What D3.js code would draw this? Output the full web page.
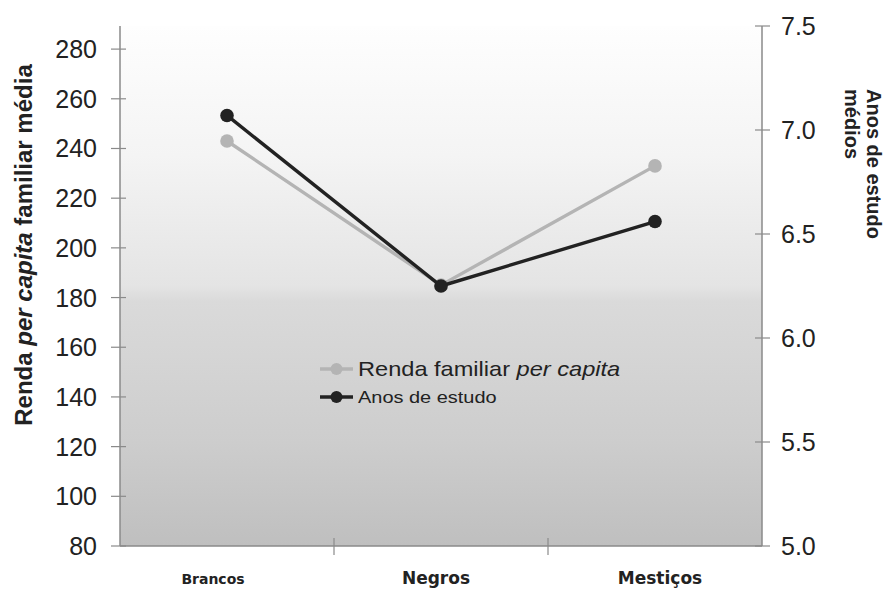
<!DOCTYPE html>
<html>
<head>
<meta charset="utf-8">
<script src="https://cdn.jsdelivr.net/npm/d3@7"></script>
<style>
  html, body { margin: 0; padding: 0; background: #fff; }
  svg { display: block; font-family: "Liberation Sans", Arial, sans-serif; }
</style>
</head>
<body>
<svg id="chart" width="890" height="590"></svg>
<script>
// Groups compared
const categories = ["Brancos", "Negros", "Mestiços"];
// Average per-capita family income (left axis)
const renda = [243, 185, 233];
// Average years of schooling (right axis)
const anosEstudo = [7.07, 6.25, 6.56];
// Tick values for both axes
const leftTicks = [80, 100, 120, 140, 160, 180, 200, 220, 240, 260, 280];
const rightTicks = [5.0, 5.5, 6.0, 6.5, 7.0, 7.5];

const svg = d3.select("#chart");
const m = { left: 120, right: 762, top: 26, bottom: 546 };

const x = d3.scaleBand().domain(categories).range([m.left, m.right]);
const yL = d3.scaleLinear().domain([80, 289.3]).range([m.bottom, m.top]);
const yR = d3.scaleLinear().domain([5.0, 7.5]).range([m.bottom, m.top]);

// Plot background: light-to-grey vertical gradient
const defs = svg.append("defs");
const grad = defs.append("linearGradient")
  .attr("id", "bg").attr("x1", 0).attr("y1", 0).attr("x2", 0).attr("y2", 1);
[[0, "#fefefe"], [0.25, "#f4f4f4"], [0.5, "#e4e4e4"], [0.53, "#dadada"], [0.8, "#cdcdcd"], [1, "#bfbfbf"]]
  .forEach(([o, c]) => grad.append("stop").attr("offset", o).attr("stop-color", c));

svg.append("rect")
  .attr("x", m.left).attr("y", m.top)
  .attr("width", m.right - m.left).attr("height", m.bottom - m.top)
  .attr("fill", "url(#bg)");

const axisColor = "#8a8a8a";
const textColor = "#222";

// Left axis
const gL = svg.append("g");
gL.append("line").attr("x1", m.left).attr("x2", m.left)
  .attr("y1", m.top).attr("y2", m.bottom).attr("stroke", axisColor).attr("stroke-width", 1.5);
gL.selectAll("line.t").data(leftTicks).join("line").attr("class", "t")
  .attr("x1", m.left - 9).attr("x2", m.left + 6)
  .attr("y1", d => yL(d)).attr("y2", d => yL(d))
  .attr("stroke", axisColor).attr("stroke-width", 1.2);
gL.selectAll("text").data(leftTicks).join("text")
  .attr("x", m.left - 23).attr("y", d => yL(d))
  .attr("dy", "0.36em").attr("text-anchor", "end")
  .attr("font-size", 25).attr("fill", textColor)
  .text(d => d);

// Right axis
const gR = svg.append("g");
gR.append("line").attr("x1", m.right).attr("x2", m.right)
  .attr("y1", m.top).attr("y2", m.bottom).attr("stroke", axisColor).attr("stroke-width", 1.5);
gR.selectAll("line.t").data(rightTicks).join("line").attr("class", "t")
  .attr("x1", m.right - 7).attr("x2", m.right + 8)
  .attr("y1", d => yR(d)).attr("y2", d => yR(d))
  .attr("stroke", axisColor).attr("stroke-width", 1.2);
gR.selectAll("text").data(rightTicks).join("text")
  .attr("x", m.right + 19).attr("y", d => yR(d))
  .attr("dy", "0.36em").attr("text-anchor", "start")
  .attr("font-size", 25).attr("fill", textColor)
  .text(d => d.toFixed(1));

// Bottom axis
const gB = svg.append("g");
gB.append("line").attr("x1", m.left).attr("x2", m.right)
  .attr("y1", m.bottom).attr("y2", m.bottom).attr("stroke", axisColor).attr("stroke-width", 1.5);
const bounds = categories.slice(1).map(c => x(c));
gB.selectAll("line.t").data(bounds).join("line").attr("class", "t")
  .attr("x1", d => d).attr("x2", d => d)
  .attr("y1", m.bottom - 8).attr("y2", m.bottom + 9)
  .attr("stroke", axisColor).attr("stroke-width", 1.2);
const catStyle = [
  { size: 14, dx: -14 },
  { size: 17, dx: -5 },
  { size: 17, dx: 5 }
];
gB.selectAll("text").data(categories).join("text")
  .attr("x", (d, i) => x(d) + x.bandwidth() / 2 + catStyle[i].dx)
  .attr("y", 584)
  .attr("text-anchor", "middle")
  .attr("font-family", "'DejaVu Sans', Verdana, sans-serif")
  .attr("font-weight", "bold")
  .attr("font-size", (d, i) => catStyle[i].size)
  .attr("fill", textColor)
  .text(d => d);

// Axis titles
const tL = svg.append("text")
  .attr("transform", "translate(32, 245) rotate(-90)")
  .attr("text-anchor", "middle")
  .attr("font-weight", "bold").attr("font-size", 24).attr("fill", textColor);
tL.append("tspan").text("Renda ");
tL.append("tspan").attr("font-style", "italic").text("per capita");
tL.append("tspan").text(" familiar média");

const tR = svg.append("text")
  .attr("transform", "translate(867, 89) rotate(90)")
  .attr("text-anchor", "start")
  .attr("font-weight", "bold").attr("font-size", 20).attr("fill", textColor);
tR.append("tspan").attr("x", 0).attr("y", 0).text("Anos de estudo");
tR.append("tspan").attr("x", 0).attr("y", 22).text("médios");

// Series
const cx = d => x(d) + x.bandwidth() / 2;
const series = [
  { values: renda, y: yL, color: "#b4b4b4" },
  { values: anosEstudo, y: yR, color: "#222222" }
];
series.forEach(s => {
  const pts = categories.map((c, i) => [cx(c), s.y(s.values[i])]);
  svg.append("path")
    .attr("d", d3.line()(pts))
    .attr("fill", "none").attr("stroke", s.color).attr("stroke-width", 3.4);
  svg.selectAll(null).data(pts).join("circle")
    .attr("cx", d => d[0]).attr("cy", d => d[1]).attr("r", 6.8)
    .attr("fill", s.color);
});

// Legend
const lg = svg.append("g");
const legendItems = [
  { color: "#b4b4b4", y: 369, size: 20, sx: 1.18, parts: [["Renda familiar ", "normal"], ["per capita", "italic"]] },
  { color: "#222222", y: 397, size: 16.5, sx: 1.21, parts: [["Anos de estudo", "normal"]] }
];
legendItems.forEach(it => {
  lg.append("line").attr("x1", 320).attr("x2", 353).attr("y1", it.y).attr("y2", it.y)
    .attr("stroke", it.color).attr("stroke-width", 3.4);
  lg.append("circle").attr("cx", 336.5).attr("cy", it.y).attr("r", 6).attr("fill", it.color);
  const t = lg.append("text")
    .attr("transform", `translate(358, ${it.y}) scale(${it.sx}, 1)`)
    .attr("dy", "0.36em")
    .attr("font-size", it.size).attr("fill", textColor);
  it.parts.forEach(([s, st]) => t.append("tspan").attr("font-style", st).text(s));
});
</script>
</body>
</html>
